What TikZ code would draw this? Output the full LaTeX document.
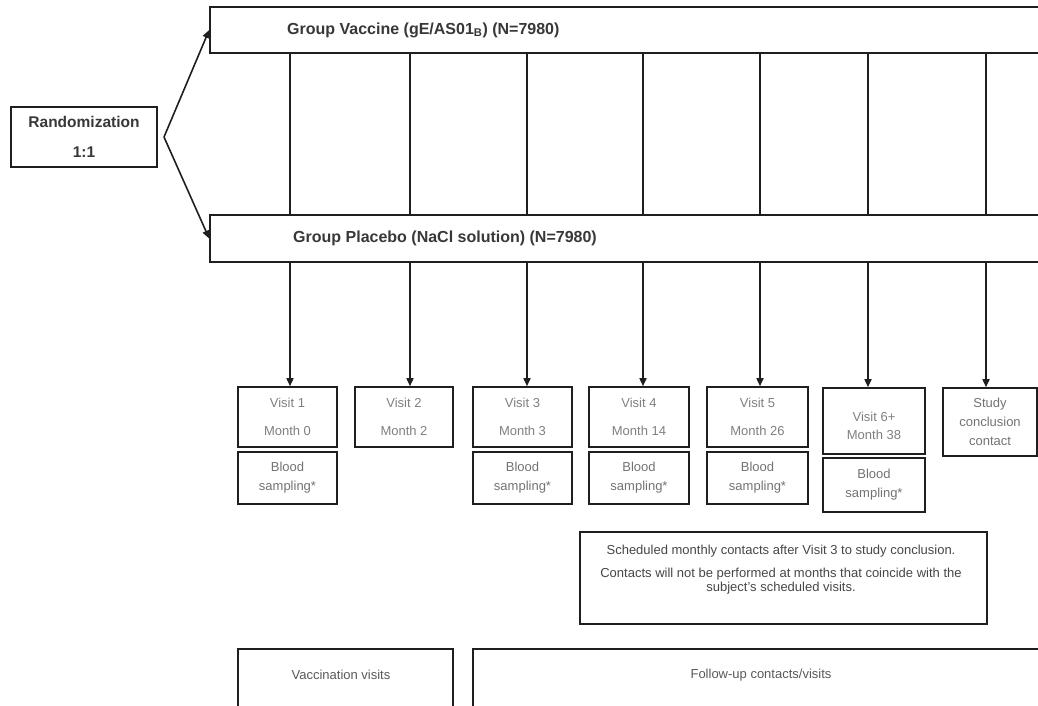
\documentclass[tikz,border=0pt]{standalone}
\usepackage{fontspec}
\setmainfont{Liberation Sans}
\usetikzlibrary{arrows.meta}
\begin{document}
\begin{tikzpicture}[x=1pt,y=-1pt,
  box/.style={draw=black!88, line width=1.6pt, inner sep=0pt, align=center, fill=white},
  head/.style={font=\fontsize{16}{19}\selectfont\bfseries, text=black!78, inner sep=0pt},
  visittxt/.style={font=\fontsize{13}{28}\selectfont, text=black!50},
  bloodtxt/.style={font=\fontsize{13}{19}\selectfont, text=black!55},
  notetxt/.style={font=\fontsize{13}{14}\selectfont, text=black!72, align=center, inner sep=0pt},
  conn/.style={draw=black!88, line width=1.6pt},
  arr/.style={conn, -{Triangle[length=8pt,width=7pt]}}]
\useasboundingbox (0,0) rectangle (1038,706);
\clip (0,0) rectangle (1038,706);
\fill[white] (0,0) rectangle (1038,706);

% randomization and the two arms
\node[box, minimum width=146pt, minimum height=60pt,
      font=\fontsize{15.5}{30}\selectfont\bfseries, text=black!78] (rand) at (84,137) {Randomization\\1:1};
\node[box, minimum width=850pt, minimum height=46pt] (vac) at (635,30) {};
\node[box, minimum width=850pt, minimum height=47pt] (plc) at (635,238.5) {};
\node[head, anchor=west] (vactxt) at (287,30) {Group Vaccine (gE/AS01\textsubscript{B}) (N=7980)};
\node[head, anchor=west] (plctxt) at (293,238) {Group Placebo (NaCl solution) (N=7980)};

% the split starts just right of the randomization box
\coordinate (fork) at (164,137);
\draw[arr] (fork) -- (vac.west);
\draw[arr] (fork) -- (plc.west);

% visit boxes
\node[box, visittxt, minimum width=99pt,  minimum height=60pt] (v1) at (287.5,417) {Visit 1\\Month 0};
\node[box, visittxt, minimum width=98pt,  minimum height=60pt] (v2) at (404,417) {Visit 2\\Month 2};
\node[box, visittxt, minimum width=99pt,  minimum height=60pt] (v3) at (522.5,417) {Visit 3\\Month 3};
\node[box, visittxt, minimum width=100pt, minimum height=60pt] (v4) at (639,417) {Visit 4\\Month 14};
\node[box, visittxt, minimum width=101pt, minimum height=60pt] (v5) at (757.5,417) {Visit 5\\Month 26};
\node[box, minimum width=102pt, minimum height=66pt] (v6) at (874,421) {};
\node[visittxt, align=center, font=\fontsize{13}{18}\selectfont, inner sep=0pt] (v6txt) at (874,426) {Visit 6+\\Month 38};
\node[box, minimum width=94pt, minimum height=68pt,
      font=\fontsize{13}{19}\selectfont, text=black!55] (st) at (990,422) {Study\\conclusion\\contact};

% blood sampling boxes
\node[box, bloodtxt, minimum width=99pt,  minimum height=52pt] (b1) at (287.5,478) {Blood\\sampling*};
\node[box, bloodtxt, minimum width=99pt,  minimum height=52pt] (b3) at (522.5,478) {Blood\\sampling*};
\node[box, bloodtxt, minimum width=100pt, minimum height=52pt] (b4) at (639,478) {Blood\\sampling*};
\node[box, bloodtxt, minimum width=101pt, minimum height=52pt] (b5) at (757.5,478) {Blood\\sampling*};
\node[box, bloodtxt, minimum width=102pt, minimum height=54pt] (b6) at (874,485) {Blood\\sampling*};

% connector columns
\coordinate (l1) at (290,0);
\coordinate (l2) at (410,0);
\coordinate (l3) at (527,0);
\coordinate (l4) at (643,0);
\coordinate (l5) at (760,0);
\coordinate (l6) at (868,0);
\coordinate (l7) at (986,0);
\foreach \c/\v in {l1/v1,l2/v2,l3/v3,l4/v4,l5/v5,l6/v6,l7/st}{
  \draw[conn] (vac.south -| \c) -- (plc.north -| \c);
  \draw[arr] (plc.south -| \c) -- (\c |- \v.north);
}

% monthly contact note
\node[box, minimum width=407pt, minimum height=92pt] (note) at (783.5,578) {};
\node[notetxt] (notetxt) at (781,569.5) {Scheduled monthly contacts after Visit 3 to study conclusion.\\[9pt]
Contacts will not be performed at months that coincide with the\\subject's scheduled visits.};

% legend boxes
\node[box, minimum width=215pt, minimum height=71pt] (vacc) at (345.5,684.5) {};
\node[box, minimum width=587pt, minimum height=71pt] (fup) at (766.5,684.5) {};
\node[font=\fontsize{13}{15}\selectfont, text=black!65] (vacctxt) at (341,675) {Vaccination visits};
\node[font=\fontsize{13}{15}\selectfont, text=black!65] (fuptxt) at (761,675) {Follow-up contacts/visits};
\end{tikzpicture}
\end{document}
